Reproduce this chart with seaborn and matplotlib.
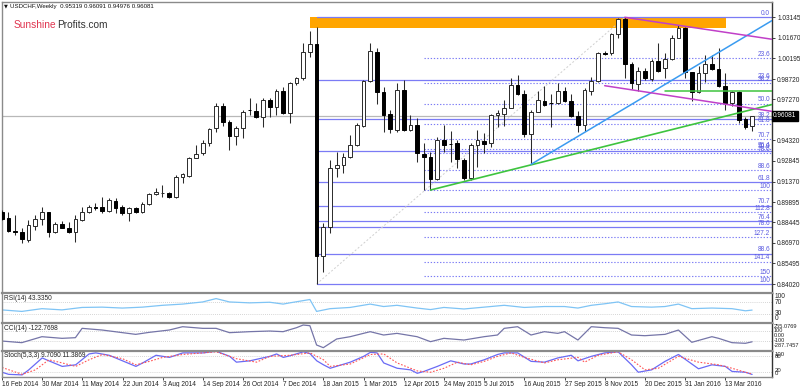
import numpy as np
import matplotlib
matplotlib.use("Agg")
import matplotlib.pyplot as plt
import matplotlib.transforms as mtrans
from matplotlib.patches import Rectangle
import seaborn as sns

# ---------------- data ----------------
opens = [0.8921, 0.8878, 0.8780, 0.8777, 0.8718, 0.8820, 0.8868, 0.8916, 0.8773, 0.8830,
         0.8806, 0.8773, 0.8861, 0.8916, 0.8952, 0.8952, 0.8928, 0.9000, 0.8952, 0.8909,
         0.8945, 0.8916, 0.8974, 0.9045, 0.9055, 0.9052, 0.9028, 0.9172, 0.9179, 0.9308,
         0.9339, 0.9411, 0.9518, 0.9681, 0.9566, 0.9465, 0.9518, 0.9652, 0.9645, 0.9602,
         0.9722, 0.9674, 0.9786, 0.9626, 0.9841, 0.9877, 1.0064, 1.0121, 0.8605, 0.8813,
         0.9232, 0.9255, 0.9315, 0.9399, 0.9537, 0.9858, 1.0068, 0.9777, 0.9619, 0.9506,
         0.9793, 0.9506, 0.9542, 0.9332, 0.9315, 0.9155, 0.9435, 0.9408, 0.9411, 0.9291,
         0.9164, 0.9399, 0.9428, 0.9411, 0.9614, 0.9623, 0.9666, 0.9829, 0.9762, 0.9478,
         0.9638, 0.9714, 0.9698, 0.9698, 0.9786, 0.9714, 0.9609, 0.9542, 0.9786, 0.9858,
         1.0056, 1.0056, 1.0193, 1.0302, 0.9977, 0.9834, 0.9929, 0.9872, 1.0001, 0.9949,
         1.0015, 1.0168, 1.0240, 0.9920, 0.9777, 0.9913, 0.9977, 0.9944, 0.9824, 0.9698,
         0.9777, 0.9585, 0.95319]
highs = [0.8933, 0.8921, 0.8897, 0.8806, 0.8861, 0.8897, 0.8952, 0.8921, 0.8849, 0.8854,
         0.8849, 0.8897, 0.8957, 0.8969, 0.8981, 0.9028, 0.9017, 0.9017, 0.8969, 0.8954,
         0.8957, 0.8992, 0.9057, 0.9093, 0.9112, 0.9064, 0.9184, 0.9196, 0.9315, 0.9399,
         0.9435, 0.9523, 0.9698, 0.9698, 0.9578, 0.9537, 0.9650, 0.9738, 0.9698, 0.9734,
         0.9734, 0.9800, 0.9817, 0.9853, 0.9889, 1.0128, 1.0216, 1.0247, 0.8837, 0.9291,
         0.9347, 0.9339, 0.9471, 0.9554, 0.9865, 1.0128, 1.0097, 0.9817, 0.9650, 0.9843,
         0.9865, 0.9614, 0.9590, 0.9411, 0.9351, 0.9458, 0.9542, 0.9499, 0.9435, 0.9306,
         0.9411, 0.9506, 0.9483, 0.9621, 0.9650, 0.9722, 0.9877, 0.9901, 0.9793, 0.9650,
         0.9786, 0.9824, 0.9762, 0.9841, 0.9817, 0.9762, 0.9643, 0.9808, 0.9889, 1.0068,
         1.0073, 1.0200, 1.0310, 1.03145, 0.9996, 0.9960, 0.9948, 1.0015, 1.0128, 1.0056,
         1.0188, 1.0259, 1.0247, 0.9924, 0.9967, 1.0044, 1.0044, 1.0097, 0.9913, 0.9786,
         0.9786, 0.9602, 0.96091]
lows = [0.8861, 0.8777, 0.8754, 0.8694, 0.8706, 0.8789, 0.8825, 0.8742, 0.8766, 0.8801,
        0.8766, 0.8701, 0.8854, 0.8909, 0.8933, 0.8909, 0.8921, 0.8909, 0.8897, 0.8856,
        0.8909, 0.8909, 0.8969, 0.9040, 0.9028, 0.9021, 0.9021, 0.9124, 0.9172, 0.9303,
        0.9327, 0.9394, 0.9490, 0.9537, 0.9363, 0.9399, 0.9447, 0.9614, 0.9590, 0.9530,
        0.9602, 0.9614, 0.9619, 0.9554, 0.9829, 0.9865, 1.0032, 0.8402, 0.8490, 0.8766,
        0.9172, 0.9196, 0.9303, 0.9390, 0.9530, 0.9853, 0.9691, 0.9490, 0.9483, 0.9494,
        0.9500, 0.9499, 0.9279, 0.9076, 0.9076, 0.9148, 0.9351, 0.9279, 0.9232, 0.9148,
        0.9151, 0.9243, 0.9339, 0.9387, 0.9530, 0.9537, 0.9662, 0.9757, 0.9458, 0.9260,
        0.9633, 0.9681, 0.9530, 0.9691, 0.9705, 0.9602, 0.9494, 0.9499, 0.9757, 0.9848,
        1.0044, 1.0044, 1.0164, 0.9877, 0.9800, 0.9786, 0.9865, 0.9858, 0.9922, 0.9881,
        1.0008, 1.0164, 0.9881, 0.9714, 0.9770, 0.9853, 0.9937, 0.9817, 0.9650, 0.9681,
        0.9554, 0.9514, 0.94976]
closes = [0.8868, 0.8782, 0.8776, 0.8725, 0.8825, 0.8868, 0.8916, 0.8773, 0.8830, 0.8806,
          0.8777, 0.8868, 0.8916, 0.8957, 0.8950, 0.8928, 0.9005, 0.8949, 0.8909, 0.8945,
          0.8921, 0.8974, 0.9045, 0.9060, 0.9058, 0.9028, 0.9172, 0.9189, 0.9308, 0.9332,
          0.9411, 0.9514, 0.9681, 0.9566, 0.9465, 0.9518, 0.9638, 0.9650, 0.9602, 0.9722,
          0.9669, 0.9788, 0.9626, 0.9841, 0.9877, 1.0068, 1.0121, 0.8605, 0.8813, 0.9232,
          0.9255, 0.9315, 0.9399, 0.9542, 0.9858, 1.0073, 0.9777, 0.9614, 0.9514, 0.9793,
          0.9506, 0.9542, 0.9339, 0.9311, 0.9155, 0.9435, 0.9399, 0.9406, 0.9298, 0.9160,
          0.9399, 0.9435, 0.9404, 0.9614, 0.9626, 0.9666, 0.9829, 0.9765, 0.9478, 0.9638,
          0.9722, 0.9686, 0.9697, 0.9786, 0.9714, 0.9609, 0.9542, 0.9793, 0.9858, 1.0056,
          1.0054, 1.0193, 1.0302, 0.9977, 0.9841, 0.9929, 0.9877, 1.0001, 0.9929, 1.0015,
          1.0168, 1.0240, 0.9924, 0.9777, 0.9913, 0.9977, 0.9944, 0.9824, 0.9698, 0.9777,
          0.9578, 0.9530, 0.96081]

date_bars = [0, 6, 12, 18, 24, 30, 36, 42, 48, 54, 60, 66, 72, 78, 84, 90, 96, 102, 108]
date_labels = ["16 Feb 2014", "30 Mar 2014", "11 May 2014", "22 Jun 2014", "3 Aug 2014",
               "14 Sep 2014", "26 Oct 2014", "7 Dec 2014", "18 Jan 2015", "1 Mar 2015",
               "12 Apr 2015", "24 May 2015", "5 Jul 2015", "16 Aug 2015", "27 Sep 2015",
               "8 Nov 2015", "20 Dec 2015", "31 Jan 2016", "13 Mar 2016"]

price_ticks = [1.03145, 1.01670, 1.00195, 0.98720, 0.97270, 0.95795, 0.94320,
               0.92845, 0.91370, 0.89895, 0.88445, 0.86970, 0.85495, 0.84020]
last_price = 0.96081

# Fibonacci tools
fib_a_high, fib_a_low = 1.03145, 0.84020
fib_a_levels = [0.0, 23.6, 38.2, 50.0, 61.8, 70.7, 76.4, 78.6, 88.6, 100]
fib_a_start = 47
fib_b_high, fib_b_low = 1.03145, 0.9076
fib_b_levels = [23.6, 38.2, 50.0, 61.8, 70.7, 76.4, 78.6, 88.6, 100, 112.8, 127.2, 141.4, 150]
fib_b_start = 63
fib_diag_bars = [47, 93]
fib_diag_prices = [0.8402, 1.03145]

# resistance zone
zone_bars = [46.0, 108.06]
zone_prices = [1.0240, 1.0319]

# trend lines (bar index, price)
green1_bars, green1_prices = [64, 114.97], [0.9076, 0.9689]
green2_bars, green2_prices = [99, 114.97], [0.9786, 0.9786]
blue_bars, blue_prices = [79, 114.97], [0.9260, 1.0291]
mag1_bars, mag1_prices = [93, 114.97], [1.03145, 1.0157]
mag2_bars, mag2_prices = [90, 114.97], [0.9824, 0.9640]

# indicators
rsi_x = [0, 3, 6, 9, 12, 15, 18, 21, 24, 27, 30, 32, 34, 37, 40, 42, 43, 46, 47, 49,
         52, 55, 57, 59, 62, 64, 66, 69, 72, 75, 78, 81, 84, 86, 88, 90, 92, 94, 97, 99,
         101, 103, 106, 109, 111, 112]
rsi_v = [44, 39, 48, 44, 52, 53, 50, 53, 59, 63, 70, 81, 70, 67, 69, 63, 67, 78, 39, 48,
         52, 63, 55, 59, 50, 45, 52, 47, 53, 59, 52, 55, 55, 50, 59, 64, 70, 55, 53, 55,
         63, 48, 50, 48, 41, 43.335]
cci_x = [0, 3, 6, 9, 11, 12, 15, 20, 22, 25, 27, 30, 32, 34, 37, 40, 42, 44, 45, 46,
         47, 48, 50, 52, 55, 57, 59, 62, 64, 66, 69, 72, 74, 75, 77, 79, 81, 83, 84, 86,
         88, 90, 92, 94, 96, 99, 101, 103, 106, 107, 109, 111, 112]
cci_v = [-107, -140, -20, -53, -40, 148, 114, 27, 67, 114, 181, 148, 148, 61, 81, 94, 81, 161, 215, 201,
         -187, -241, -66, -20, 81, 14, 47, -20, -120, -53, -87, -20, 14, 148, 181, 14, 81, 47, 81, -87,
         181, 161, 148, 14, 0, 27, 114, -133, -20, -53, -140, -153, -122.77]
st_x = [0, 1, 3, 4, 6, 7, 9, 11, 13, 14, 16, 18, 20, 21, 23, 25, 27, 30, 32, 34,
        35, 37, 40, 41, 42, 43, 45, 46, 47, 48, 49, 52, 54, 55, 56, 57, 59, 61, 62, 63,
        65, 67, 69, 70, 72, 74, 75, 77, 79, 81, 83, 85, 86, 88, 90, 92, 94, 95, 97, 99,
        101, 103, 104, 106, 108, 109, 111, 112]
st_v = [18, 10, 8, 27, 72, 61, 40, 46, 87, 91, 82, 61, 40, 53, 82, 74, 91, 91, 97, 78,
        56, 61, 78, 87, 74, 80, 95, 88, 61, 46, 33, 56, 78, 93, 91, 53, 33, 27, 14, 21,
        40, 61, 49, 49, 65, 85, 91, 91, 59, 56, 72, 82, 61, 78, 91, 95, 46, 18, 27, 59,
        85, 49, 31, 46, 40, 21, 18, 9.709]
sg_x = [0, 3, 5, 7, 9, 11, 13, 15, 18, 20, 22, 24, 27, 32, 35, 38, 40, 43, 46, 48,
        49, 52, 55, 57, 59, 62, 64, 66, 68, 70, 72, 74, 76, 78, 81, 83, 86, 87, 89, 92,
        94, 96, 98, 101, 104, 107, 109, 111, 112]
sg_v = [36, 10, 27, 65, 53, 40, 65, 85, 69, 46, 59, 74, 85, 95, 69, 56, 78, 82, 91, 65,
        40, 49, 85, 87, 53, 23, 18, 33, 56, 46, 59, 78, 91, 74, 53, 65, 74, 56, 82, 95,
        65, 27, 33, 78, 56, 46, 33, 18, 11.387]

# ---------------- figure ----------------
sns.set_style("white")
plt.rcParams['font.family'] = ['Liberation Sans', 'DejaVu Sans']

W, H = 800, 387
fig = plt.figure(figsize=(W / 100, H / 100), dpi=100)
fig.patch.set_facecolor("white")


def box(x0, y0, x1, y1):
    return [x0 / W, 1 - y1 / H, (x1 - x0) / W, (y1 - y0) / H]


XMIN, XMAX = 0.045, 114.97
ax = fig.add_axes(box(2, 1.5, 772, 293))
ax_rsi = fig.add_axes(box(2, 293, 772, 322.5))
ax_cci = fig.add_axes(box(2, 322.5, 772, 350.5))
ax_st = fig.add_axes(box(2, 350.5, 772, 377))

SMALL = 4.7
for a in (ax, ax_rsi, ax_cci, ax_st):
    a.set_xlim(XMIN, XMAX)
    a.set_facecolor("white")
    for s in a.spines.values():
        s.set_color("#8a8a8a")
        s.set_linewidth(1.0)
    a.spines["right"].set_color("#333333")
    a.tick_params(axis="x", bottom=False, labelbottom=False)
    a.set_yticks([])
for a in (ax_rsi, ax_cci, ax_st):
    a.spines["top"].set_linewidth(1.6)

# main price panel
ax.set_ylim(0.83377, 1.04277)

# resistance zone
ax.add_patch(Rectangle((zone_bars[0], zone_prices[0]), zone_bars[1] - zone_bars[0],
                       zone_prices[1] - zone_prices[0], facecolor="#FFA500",
                       edgecolor="none", zorder=1))

# current price line
ax.axhline(last_price, color="#b8b8b8", lw=0.9, zorder=1.5)

fib_color = "#7b7bf5"
lab_color = "#5a5ae0"
for lv in fib_a_levels:
    p = fib_a_high - lv / 100 * (fib_a_high - fib_a_low)
    ax.plot([fib_a_start, XMAX], [p, p], color=fib_color, lw=0.9, zorder=2)
    ax.annotate(f"{lv:.1f}" if lv < 100 else "100", xy=(XMAX, p), xytext=(-1.5, 0.3),
                textcoords="offset points", ha="right", va="bottom",
                fontsize=SMALL, color=lab_color, zorder=6)
for lv in fib_b_levels:
    p = fib_b_high - lv / 100 * (fib_b_high - fib_b_low)
    ax.plot([fib_b_start, XMAX], [p, p], color=fib_color, lw=0.8,
            ls=(0, (1.2, 1.6)), zorder=2)
    txt = f"{lv:.1f}" if lv < 100 else (f"{lv:g}")
    ax.annotate(txt, xy=(XMAX, p), xytext=(-1.5, 0.3),
                textcoords="offset points", ha="right", va="bottom",
                fontsize=SMALL, color=lab_color, zorder=6)
ax.plot(fib_diag_bars, fib_diag_prices, color="#cfcfcf", lw=0.7,
        ls=(0, (2, 2)), zorder=2)

# candles
x = np.arange(len(opens))
o, h, l, c = map(np.array, (opens, highs, lows, closes))
up = c >= o
ax.vlines(x, l, h, color="#2a2a2a", lw=0.75, zorder=3)
bottom = np.minimum(o, c)
height = np.maximum(np.abs(c - o), 0.00028)
ax.bar(x[up], height[up], bottom=bottom[up], width=0.56, color="white",
       edgecolor="#2a2a2a", linewidth=0.7, zorder=4)
ax.bar(x[~up], height[~up], bottom=bottom[~up], width=0.56, color="black",
       edgecolor="black", linewidth=0.7, zorder=4)

# trend lines
ax.plot(green1_bars, green1_prices, color="#3ec43e", lw=1.2, zorder=5)
ax.plot(green2_bars, green2_prices, color="#3ec43e", lw=1.1, zorder=5)
ax.plot(blue_bars, blue_prices, color="#3a9bf0", lw=1.1, zorder=5)
ax.plot(mag1_bars, mag1_prices, color="#c040c8", lw=1.1, zorder=5)
ax.plot(mag2_bars, mag2_prices, color="#c040c8", lw=1.1, zorder=5)

# right price axis
ax.yaxis.tick_right()
ax.set_yticks(price_ticks)
ax.set_yticklabels([f"{v:.5f}" for v in price_ticks])
ax.tick_params(axis="y", right=True, length=2.5, width=0.6, pad=1.2,
               labelsize=SMALL, colors="#222222")
ax.text(1.0015, last_price, f"{last_price:.5f}",
        transform=mtrans.blended_transform_factory(ax.transAxes, ax.transData),
        ha="left", va="center", fontsize=SMALL, color="white", zorder=10,
        clip_on=False,
        bbox=dict(boxstyle="square,pad=0.25", facecolor="black", edgecolor="black"))

# RSI panel
ax_rsi.set_ylim(2.7, 99.3)
for lv in (70, 30):
    ax_rsi.axhline(lv, color="#c8c8c8", lw=0.6, ls=(0, (1, 1.5)))
sns.lineplot(x=rsi_x, y=rsi_v, ax=ax_rsi, color="#7fc4f5", lw=0.9)

# CCI panel
ax_cci.set_ylim(-297.8, 265.6)
for lv in (100, -100):
    ax_cci.axhline(lv, color="#c8c8c8", lw=0.6, ls=(0, (1, 1.5)))
sns.lineplot(x=cci_x, y=cci_v, ax=ax_cci, color="#7575a8", lw=0.9)

# Stochastic panel
ax_st.set_ylim(0, 100)
for lv in (80, 20):
    ax_st.axhline(lv, color="#c8c8c8", lw=0.6, ls=(0, (1, 1.5)))
sns.lineplot(x=st_x, y=st_v, ax=ax_st, color="#6a6af5", lw=0.9)
sns.lineplot(x=sg_x, y=sg_v, ax=ax_st, color="#ff5555", lw=0.8,
             linestyle=(0, (1.5, 1.5)))

for a in (ax_rsi, ax_cci, ax_st):
    a.set_xlabel("")
    a.set_ylabel("")
    a.set_xlim(XMIN, XMAX)

# date axis
ax_st.set_xticks(date_bars)
ax_st.set_xticklabels(date_labels, ha="left")
ax_st.tick_params(axis="x", bottom=True, labelbottom=True, length=2.2,
                  width=0.6, pad=0.8, labelsize=SMALL, colors="#222222")


def ftext(px, py, s, **kw):
    fig.text(px / W, 1 - py / H, s, va="center", **kw)


# header texts
ftext(3.5, 6.3, "▼", fontsize=3.6, color="#111111", family="DejaVu Sans")
ftext(10, 6.3, "USDCHF,Weekly  0.95319 0.96091 0.94976 0.96081",
      fontsize=4.4, color="#111111")
t1 = fig.text(14 / W, 1 - 24.5 / H, "Sunshine", fontsize=7.3, color="#e0344f",
              va="center")
fig.canvas.draw()
bb = t1.get_window_extent()
fig.text(bb.x1 / W, 1 - 24.5 / H, "Profits.com", fontsize=7.3, color="#333333",
         va="center")

# indicator captions
ftext(4, 298.3, "RSI(14) 43.3350", fontsize=SMALL, color="#222222")
ftext(4, 328.3, "CCI(14) -122.7698", fontsize=SMALL, color="#222222")
ftext(4, 355.3, "Stoch(5,3,3) 9.7090 11.3869", fontsize=SMALL, color="#222222")

# indicator scales (right side)
for s, py in (("100", 297), ("70", 302.5), ("30", 313.5), ("0", 318.5)):
    ftext(775, py, s, fontsize=SMALL, color="#222222")
for s, py in (("255.0769", 326.3), ("100", 330.8), ("0.00", 335.5), ("-100", 340.2),
              ("-287.7457", 345.6)):
    ftext(774, py, s, fontsize=4.1, color="#222222")
for s, py in (("100", 354.0), ("80", 357.0), ("20", 371.0), ("0", 373.8)):
    ftext(775, py, s, fontsize=4.3, color="#222222")

fig.savefig("out.png", dpi=100, facecolor="white")
